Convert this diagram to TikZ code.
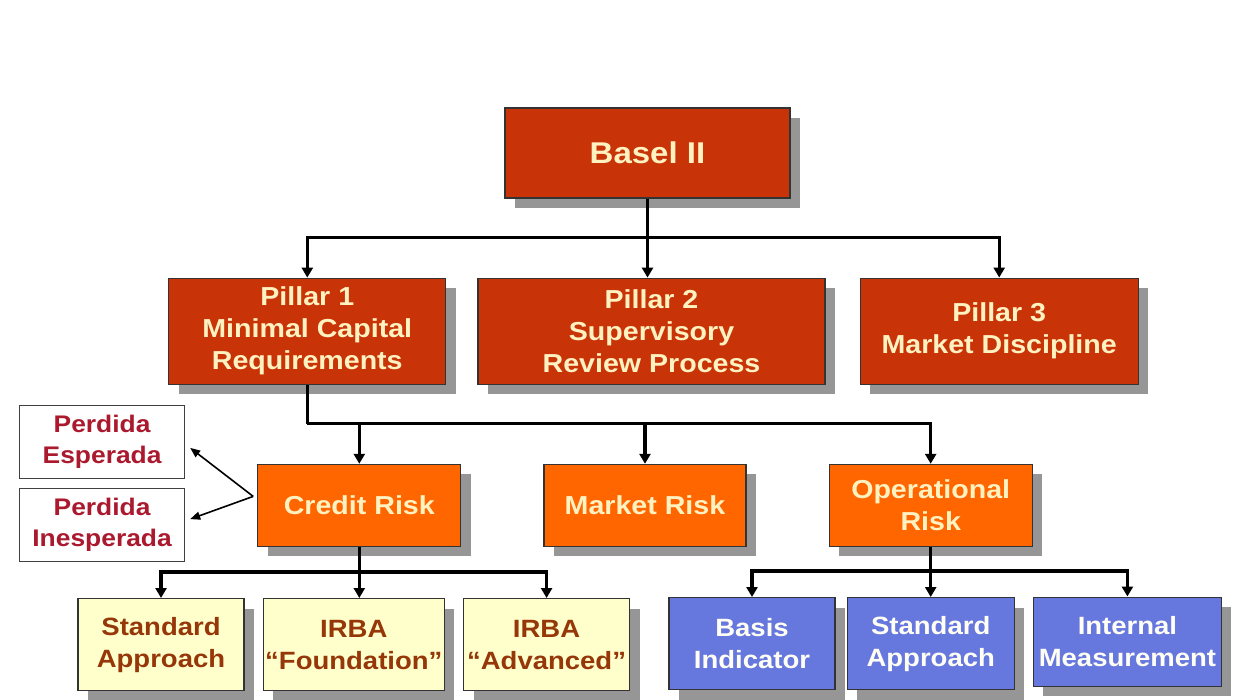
\documentclass[tikz,border=0pt]{standalone}
\usepackage{fontspec}
\setmainfont{Liberation Sans}[FakeStretch=1.1]
\usepackage{tikz}
\usetikzlibrary{arrows.meta, positioning, shadows}
\usepackage{xcolor}
\definecolor{bsred}{RGB}{200, 52, 8}
\definecolor{bsorange}{RGB}{255, 102, 0}
\definecolor{bsyellow}{RGB}{255, 255, 204}
\definecolor{bsblue}{RGB}{102, 119, 221}
\definecolor{bscream}{RGB}{255, 242, 192}
\definecolor{bsbrown}{RGB}{150, 55, 10}
\definecolor{bscrimson}{RGB}{170, 25, 45}
\definecolor{bsshadow}{RGB}{150, 150, 150}

\begin{document}
\begin{tikzpicture}[
  box/.style={rectangle, draw=black!80, line width=0.6pt, inner sep=1pt, align=center,
    font=\fontsize{13pt}{16pt}\selectfont\bfseries,
    drop shadow={fill=bsshadow, opacity=1, shadow xshift=5pt, shadow yshift=-5pt}},
  pillar/.style={box, fill=bsred, text=bscream, minimum height=53pt},
  risk/.style={box, fill=bsorange, text=bscream, minimum width=101.5pt, minimum height=41pt},
  crbox/.style={box, fill=bsyellow, text=bsbrown, minimum height=46pt, font=\fontsize{12.5pt}{16pt}\selectfont\bfseries},
  opbox/.style={box, fill=bsblue, text=white!96!yellow, minimum height=46pt, font=\fontsize{12.5pt}{16pt}\selectfont\bfseries},
  loss/.style={rectangle, draw=black!75, line width=0.6pt, fill=white, text=bscrimson, minimum width=82.5pt, minimum height=36.5pt, align=center, font=\fontsize{12pt}{15.5pt}\selectfont\bfseries},
  line/.style={line width=1.6pt},
  arr/.style={line, -{Triangle[length=5pt, width=5.5pt]}},
  thinarr/.style={line width=0.8pt, -{Triangle[length=5pt, width=4pt]}}
]
\useasboundingbox (0,0) rectangle (618pt,-350pt);

% top and the three pillars
\node[pillar, minimum width=142.5pt, minimum height=45pt, font=\fontsize{15pt}{18pt}\selectfont\bfseries] (basel) at (323.75pt,-76.5pt) {Basel II};
\node[pillar, minimum width=173.5pt, below=39.5pt of basel, xshift=2pt] (p2) {Pillar 2\\Supervisory\\Review Process};
\node[pillar, minimum width=138.5pt, left=15.5pt of p2] (p1) {Pillar 1\\Minimal Capital\\Requirements};
\node[pillar, minimum width=139pt, right=17pt of p2] (p3) {Pillar 3\\Market Discipline};

% risk types
\node[risk, minimum width=101pt, below=39.5pt of p2, xshift=-3.25pt] (market) {Market Risk};
\node[risk, left=41pt of market] (credit) {Credit Risk};
\node[risk, right=41pt of market] (oper) {Operational\\Risk};

% expected / unexpected loss
\node[loss, left=36pt of credit, yshift=31.75pt] (esperada) {Perdida\\Esperada};
\node[loss, below=4.5pt of esperada] (inesperada) {Perdida\\Inesperada};

% credit risk approaches
\node[crbox, minimum width=88pt, below=25.5pt of credit, xshift=-2.75pt] (irbaf) {IRBA\\“Foundation”};
\node[crbox, minimum width=83pt, left=9pt of irbaf] (stdcr) {Standard\\Approach};
\node[crbox, minimum width=83pt, right=9pt of irbaf] (irbaa) {IRBA\\“Advanced”};

% operational risk approaches
\node[opbox, minimum width=83.5pt, below=25pt of oper] (stdop) {Standard\\Approach};
\node[opbox, minimum width=83pt, left=5.5pt of stdop] (basis) {Basis\\Indicator};
\node[opbox, minimum width=94pt, minimum height=44.5pt, right=9pt of stdop, yshift=1pt] (internal) {Internal\\Measurement};

% connectors
\draw[line] (basel.south) -- ++(0,-19.5pt) coordinate (pbus);
\draw[arr] (pbus) -| (p1.north);
\draw[arr] (pbus) -- (pbus |- p2.north);
\draw[arr] (pbus) -| (p3.north);

\draw[line] (p1.south) -- ++(0,-19.5pt) coordinate (rbus);
\draw[arr] (rbus) -| (credit.north);
\draw[arr] (rbus) -| (market.north);
\draw[arr] (rbus) -| (oper.north);

\draw[line] (credit.south) -- ++(0,-12.5pt) coordinate (cbus);
\draw[arr] (cbus) -| (stdcr.north);
\draw[arr] (cbus) -- (cbus |- irbaf.north);
\draw[arr] (cbus) -| (irbaa.north);

\draw[line] (oper.south) -- ++(0,-12pt) coordinate (obus);
\draw[arr] (obus) -| (basis.north);
\draw[arr] (obus) -- (stdop.north);
\draw[arr] (obus) -| (internal.north);

\draw[thinarr] ([xshift=-2pt, yshift=4.5pt]credit.west) -- ([xshift=2.5pt, yshift=-3pt]esperada.east);
\draw[thinarr] ([xshift=-2pt, yshift=4.5pt]credit.west) -- ([xshift=2.5pt, yshift=3pt]inesperada.east);

\end{tikzpicture}
\end{document}
